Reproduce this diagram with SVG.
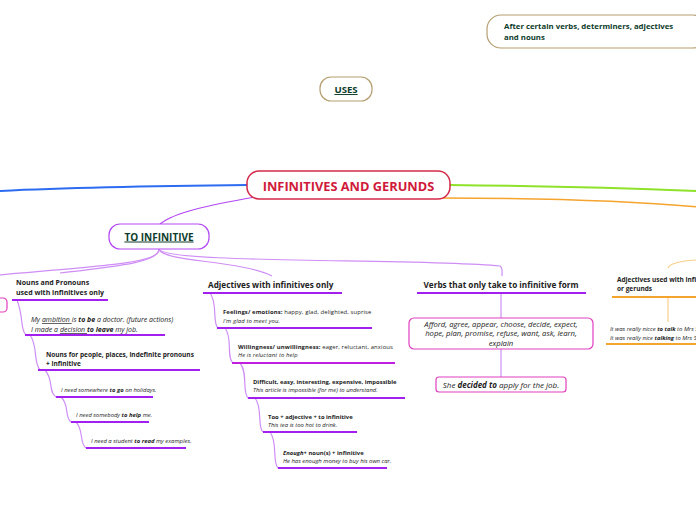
<svg xmlns="http://www.w3.org/2000/svg" width="696" height="520" viewBox="0 0 696 520">
<style>
text{font-family:"Open Sans","Noto Sans","DejaVu Sans",sans-serif;fill:#222}
tspan{fill:#222}
.g,.g tspan{fill:#0d3b2a;font-weight:bold}
.b{font-weight:bold}
.i{font-style:italic}
.br{fill:none;stroke:#cf8ef6;stroke-width:1.2}
.ul{stroke:#a21ff0;stroke-width:2}
.ulp{stroke:#c21ee0;stroke-width:2}
.uo{stroke:#f5a42e;stroke-width:2}
.s7{font-size:7px}
.s8{font-size:7.7px}
.s6{font-size:6.5px}
.s5{font-size:5.9px}
.ls{letter-spacing:0.12px}
</style>
<rect width="696" height="520" fill="#fff"/>
<g id="connectors">
<path d="M248 185 C150 186 60 188 -2 191" fill="none" stroke="#2d6cf0" stroke-width="2"/>
<path d="M450 185 C540 186 620 188 698 191" fill="none" stroke="#8fe22a" stroke-width="2"/>
<path d="M440 198 C520 198 620 200 698 207" fill="none" stroke="#f5a42e" stroke-width="1.5"/>
<path d="M255 197 C210 205 175 212 160 224" fill="none" stroke="#b448f4" stroke-width="1.2"/>
<path class="br" d="M159 249 C159 262 120 265 -2 275"/>
<path class="br" d="M159 249 C159 262 120 266 60 273"/>
<path class="br" d="M159 249 C162 262 240 260 272 276"/>
<path class="br" d="M159 249 C162 264 420 258 500 266 C503 268 502 272 502 276"/>
<path class="br" d="M17 300 C24 318 20 330 26 335"/>
<path class="br" d="M30 335 C38 345 33 362 40 370"/>
<path class="br" d="M45 370 C54 380 48 392 56 397"/>
<path class="br" d="M61 397 C70 405 64 417 71 422"/>
<path class="br" d="M76 422 C84 430 79 443 86 448"/>
<path class="br" d="M210 293 C218 303 212 323 218 328"/>
<path class="br" d="M225 328 C233 338 226 357 233 363"/>
<path class="br" d="M240 363 C248 372 242 392 248 398"/>
<path class="br" d="M255 398 C263 408 257 427 263 432"/>
<path class="br" d="M270 432 C278 442 272 462 278 468"/>
<path class="br" d="M501 293 L501 318"/>
<path class="br" d="M501 349 L501 377"/>
<path d="M668 268 C670 262 690 260 698 260" fill="none" stroke="#f9cf8a" stroke-width="1.2"/>
<path d="M668 297 L668 322" fill="none" stroke="#f9cf8a" stroke-width="1.2"/>
</g>
<g id="after">
<rect x="487" y="15" width="220" height="33" rx="14" fill="#fff" stroke="#b59e70" stroke-width="1.2"/>
<text x="504" y="29" class="g" font-size="7.8">After certain verbs, determiners, adjectives</text>
<text x="504" y="40" class="g" font-size="7.8">and nouns</text>
</g>
<g id="uses">
<rect x="320" y="77" width="52" height="24" rx="11" fill="#fff" stroke="#b59e70" stroke-width="1.2"/>
<text x="346" y="93" class="g" font-size="9.6" text-anchor="middle" text-decoration="underline">USES</text>
</g>
<g id="main">
<rect x="247" y="171" width="203" height="28" rx="12" fill="#fff" stroke="#d42a4a" stroke-width="1.5"/>
<text x="348.5" y="190.5" font-size="12.8" font-weight="bold" text-anchor="middle" style="fill:#d0193a">INFINITIVES AND GERUNDS</text>
</g>
<g id="toinf">
<rect x="109" y="224" width="100" height="25" rx="11" fill="#fff" stroke="#b448f4" stroke-width="1.2"/>
<text x="159" y="240.5" class="g" font-size="10" text-anchor="middle" text-decoration="underline">TO INFINITIVE</text>
</g>
<g id="leftbox">
<rect x="-60" y="298" width="67" height="14" rx="4" fill="#fff" stroke="#e040c0" stroke-width="1.2"/>
</g>
<g id="nouns">
<text x="16" y="285" class="b s7">Nouns and Pronouns</text>
<text x="16" y="295" class="b s7">used with infinitives only</text>
<line x1="12" y1="300" x2="108" y2="300" class="ul"/>
</g>
<g id="ambition">
<text x="31" y="322" class="i s7">My <tspan text-decoration="underline">ambition </tspan>is <tspan class="b">to be</tspan> a doctor. (future actions)</text>
<text x="31" y="332" class="i s7">I made a <tspan text-decoration="underline">decision </tspan><tspan class="b">to leave</tspan> my job.</text>
<line x1="25" y1="335" x2="165" y2="335" class="ul"/>
</g>
<g id="people">
<text x="46" y="357" class="b s6">Nouns for people, places, indefinite pronouns</text>
<text x="46" y="366" class="b s6">+ infinitive</text>
<line x1="38" y1="370" x2="200" y2="370" class="ul"/>
</g>
<g id="ex1">
<text x="61" y="392" class="i s5">I need somewhere <tspan class="b">to go</tspan> on holidays.</text>
<line x1="56" y1="397" x2="153" y2="397" class="ul"/>
</g>
<g id="ex2">
<text x="76" y="417" class="i s5">I need somebody <tspan class="b">to help</tspan> me.</text>
<line x1="71" y1="422" x2="149" y2="422" class="ul"/>
</g>
<g id="ex3">
<text x="91" y="443" class="i s5">I need a student <tspan class="b">to read</tspan> my examples.</text>
<line x1="86" y1="448" x2="186" y2="448" class="ul"/>
</g>
<g id="adj">
<text x="208" y="288" class="b" font-size="8.2">Adjectives with infinitives only</text>
<line x1="203" y1="293" x2="342" y2="293" class="ul"/>
</g>
<g id="feel">
<text x="223" y="314" class="s5 ls"><tspan class="b">Feelings/ emotions:</tspan> happy, glad, delighted, suprise</text>
<text x="223" y="323" class="i s5 ls">I'm glad to meet you.</text>
<line x1="217" y1="328" x2="372" y2="328" class="ul"/>
</g>
<g id="will">
<text x="238" y="349" class="s5 ls"><tspan class="b">Willingness/ unwillingness:</tspan> eager, reluctant, anxious</text>
<text x="238" y="357" class="i s5 ls">He is reluctant to help</text>
<line x1="232" y1="363" x2="395" y2="363" class="ulp"/>
</g>
<g id="diff">
<text x="253" y="384" class="b s5">Difficult, easy, interesting, expensive, impossible</text>
<text x="253" y="392" class="i s5">This article is impossible (for me) to understand.</text>
<line x1="248" y1="398" x2="405" y2="398" class="ul"/>
</g>
<g id="too">
<text x="268" y="419" class="b s5">Too + adjective + to infinitive</text>
<text x="268" y="427" class="i s5">This tea is too hot to drink.</text>
<line x1="263" y1="432" x2="357" y2="432" class="ul"/>
</g>
<g id="enough">
<text x="283" y="455" class="b s5"><tspan class="i">Enough</tspan>+ noun(s) + infinitive</text>
<text x="283" y="463" class="i s5">He has enough money to buy his own car.</text>
<line x1="278" y1="468" x2="387" y2="468" class="ul"/>
</g>
<g id="verbs">
<text x="501" y="288" class="b" font-size="8.2" text-anchor="middle">Verbs that only take to infinitive form</text>
<line x1="417" y1="293" x2="586" y2="293" class="ul"/>
</g>
<g id="verblist">
<rect x="409" y="318" width="184" height="31" rx="5" fill="#fff" stroke="#e040c0" stroke-width="1.2"/>
<text x="501" y="327" class="i s8" text-anchor="middle">Afford, agree, appear, choose, decide, expect,</text>
<text x="501" y="336.3" class="i s8" text-anchor="middle">hope, plan, promise, refuse, want, ask, learn,</text>
<text x="501" y="345.6" class="i s8" text-anchor="middle">explain</text>
</g>
<g id="decided">
<rect x="436" y="377" width="130" height="15" rx="3" fill="#fff" stroke="#e040c0" stroke-width="1.2"/>
<text x="501" y="387.5" class="i" font-size="8" text-anchor="middle">She <tspan class="b">decided to</tspan> apply for the job.</text>
</g>
<g id="adjger">
<text x="617" y="282" class="b s6">Adjectives used with infinitives</text>
<text x="617" y="291" class="b s6">or gerunds</text>
<line x1="612" y1="297" x2="698" y2="297" class="uo"/>
</g>
<g id="nice">
<text x="610" y="331" class="i s5">It was really nicce <tspan class="b">to talk</tspan> to Mrs Smith.</text>
<text x="610" y="340" class="i s5">It was really nice <tspan class="b">talking</tspan> to Mrs Smith.</text>
<line x1="606" y1="344" x2="698" y2="344" class="uo"/>
</g>
</svg>
